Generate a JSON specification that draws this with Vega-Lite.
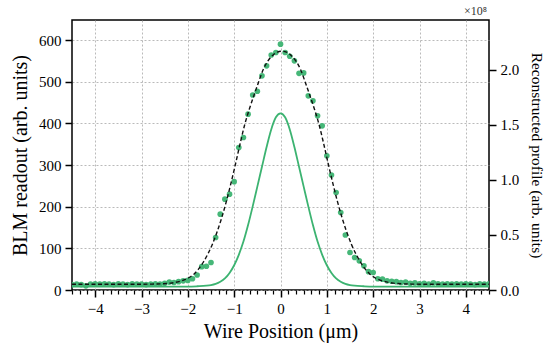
{
  "$schema": "https://vega.github.io/schema/vega-lite/v6.json",
  "width": 417,
  "height": 270,
  "autosize": {"type": "none"},
  "padding": {"left": 72, "top": 20, "right": 66, "bottom": 57},
  "background": "white",
  "title": {"text": "×10⁸", "anchor": "end", "frame": "group", "fontSize": 12, "fontWeight": "normal", "offset": 2, "dx": -2, "color": "#333333"},
  "config": {
    "font": "Liberation Serif",
    "view": {"stroke": "black", "strokeWidth": 1.5},
    "axis": {
      "domain": false,
      "tickColor": "black",
      "tickWidth": 1.5,
      "tickSize": 7,
      "labelFontSize": 15,
      "labelColor": "black",
      "titleColor": "black",
      "titleFontWeight": "normal",
      "titleFontSize": 20,
      "gridColor": "#a8a8a8",
      "gridDash": [2, 2],
      "gridWidth": 0.8,
      "labelOverlap": false
    }
  },
  "datasets": {
    "dots": [
      {"x": -4.5, "y": 13}, {"x": -4.4, "y": 14}, {"x": -4.3, "y": 13}, {"x": -4.2, "y": 10}, {"x": -4.1, "y": 14},
      {"x": -4.0, "y": 15}, {"x": -3.9, "y": 14}, {"x": -3.8, "y": 15}, {"x": -3.7, "y": 14}, {"x": -3.6, "y": 13},
      {"x": -3.5, "y": 15}, {"x": -3.4, "y": 14}, {"x": -3.3, "y": 13}, {"x": -3.2, "y": 15}, {"x": -3.1, "y": 14},
      {"x": -3.0, "y": 14}, {"x": -2.9, "y": 13}, {"x": -2.8, "y": 14}, {"x": -2.7, "y": 15}, {"x": -2.6, "y": 14},
      {"x": -2.5, "y": 16}, {"x": -2.4, "y": 19}, {"x": -2.3, "y": 18}, {"x": -2.2, "y": 20}, {"x": -2.1, "y": 22},
      {"x": -2.0, "y": 23}, {"x": -1.9, "y": 27}, {"x": -1.8, "y": 36}, {"x": -1.7, "y": 56}, {"x": -1.6, "y": 57},
      {"x": -1.5, "y": 66}, {"x": -1.4, "y": 126}, {"x": -1.3, "y": 182}, {"x": -1.2, "y": 218}, {"x": -1.1, "y": 230},
      {"x": -1.0, "y": 260}, {"x": -0.9, "y": 342}, {"x": -0.8, "y": 366}, {"x": -0.7, "y": 422}, {"x": -0.6, "y": 468},
      {"x": -0.5, "y": 477}, {"x": -0.4, "y": 514}, {"x": -0.3, "y": 538}, {"x": -0.2, "y": 564}, {"x": -0.1, "y": 570},
      {"x": 0.0, "y": 590}, {"x": 0.1, "y": 570}, {"x": 0.2, "y": 561}, {"x": 0.3, "y": 550}, {"x": 0.4, "y": 520},
      {"x": 0.5, "y": 521}, {"x": 0.6, "y": 466}, {"x": 0.7, "y": 454}, {"x": 0.8, "y": 418}, {"x": 0.9, "y": 394},
      {"x": 1.0, "y": 322}, {"x": 1.1, "y": 276}, {"x": 1.2, "y": 234}, {"x": 1.3, "y": 186}, {"x": 1.4, "y": 132},
      {"x": 1.5, "y": 90}, {"x": 1.6, "y": 78}, {"x": 1.7, "y": 70}, {"x": 1.8, "y": 58}, {"x": 1.9, "y": 44},
      {"x": 2.0, "y": 42}, {"x": 2.1, "y": 27}, {"x": 2.2, "y": 26}, {"x": 2.3, "y": 22}, {"x": 2.4, "y": 21},
      {"x": 2.5, "y": 20}, {"x": 2.6, "y": 18}, {"x": 2.7, "y": 19}, {"x": 2.8, "y": 16}, {"x": 2.9, "y": 17},
      {"x": 3.0, "y": 15}, {"x": 3.1, "y": 16}, {"x": 3.2, "y": 14}, {"x": 3.3, "y": 17}, {"x": 3.4, "y": 15},
      {"x": 3.5, "y": 14}, {"x": 3.6, "y": 15}, {"x": 3.7, "y": 14}, {"x": 3.8, "y": 15}, {"x": 3.9, "y": 14},
      {"x": 4.0, "y": 15}, {"x": 4.1, "y": 14}, {"x": 4.2, "y": 13}, {"x": 4.3, "y": 15}, {"x": 4.4, "y": 14},
      {"x": 4.5, "y": 15}
    ],
    "fit": [
      {"x": -4.5, "y": 13.8}, {"x": -3.97, "y": 13.8}, {"x": -3.47, "y": 13.8}, {"x": -2.97, "y": 13.9},
      {"x": -2.77, "y": 14.2}, {"x": -2.57, "y": 14.8}, {"x": -2.37, "y": 16.5}, {"x": -2.17, "y": 21},
      {"x": -1.97, "y": 30}, {"x": -1.87, "y": 38}, {"x": -1.77, "y": 50}, {"x": -1.67, "y": 66},
      {"x": -1.57, "y": 86}, {"x": -1.47, "y": 110}, {"x": -1.37, "y": 139}, {"x": -1.27, "y": 173},
      {"x": -1.17, "y": 212}, {"x": -1.07, "y": 256}, {"x": -0.97, "y": 303}, {"x": -0.87, "y": 352},
      {"x": -0.77, "y": 398}, {"x": -0.67, "y": 435}, {"x": -0.57, "y": 468}, {"x": -0.47, "y": 500},
      {"x": -0.37, "y": 530}, {"x": -0.27, "y": 550}, {"x": -0.17, "y": 563}, {"x": -0.07, "y": 571},
      {"x": 0.03, "y": 573},
      {"x": 0.13, "y": 571}, {"x": 0.23, "y": 563}, {"x": 0.33, "y": 550}, {"x": 0.43, "y": 530},
      {"x": 0.53, "y": 500}, {"x": 0.63, "y": 468}, {"x": 0.73, "y": 435}, {"x": 0.83, "y": 398},
      {"x": 0.93, "y": 352}, {"x": 1.03, "y": 303}, {"x": 1.13, "y": 256}, {"x": 1.23, "y": 212},
      {"x": 1.33, "y": 173}, {"x": 1.43, "y": 139}, {"x": 1.53, "y": 110}, {"x": 1.63, "y": 86},
      {"x": 1.73, "y": 66}, {"x": 1.83, "y": 50}, {"x": 1.93, "y": 38}, {"x": 2.03, "y": 30},
      {"x": 2.23, "y": 21}, {"x": 2.43, "y": 16.5}, {"x": 2.63, "y": 14.8}, {"x": 2.83, "y": 14.2},
      {"x": 3.03, "y": 13.9}, {"x": 3.53, "y": 13.8}, {"x": 4.03, "y": 13.8}, {"x": 4.5, "y": 13.8}
    ],
    "recon": [
      {"x": -4.5, "y": 0.03}, {"x": -3.0, "y": 0.03}, {"x": -2.5, "y": 0.03}, {"x": -2.0, "y": 0.031},
      {"x": -1.8, "y": 0.034}, {"x": -1.6, "y": 0.039}, {"x": -1.5, "y": 0.045}, {"x": -1.4, "y": 0.056},
      {"x": -1.3, "y": 0.075}, {"x": -1.2, "y": 0.105}, {"x": -1.1, "y": 0.155}, {"x": -1.0, "y": 0.225},
      {"x": -0.9, "y": 0.32}, {"x": -0.8, "y": 0.44}, {"x": -0.7, "y": 0.59}, {"x": -0.6, "y": 0.76},
      {"x": -0.5, "y": 0.94}, {"x": -0.4, "y": 1.12}, {"x": -0.3, "y": 1.30}, {"x": -0.2, "y": 1.46},
      {"x": -0.1, "y": 1.57}, {"x": 0.0, "y": 1.606}, {"x": 0.1, "y": 1.57}, {"x": 0.2, "y": 1.46},
      {"x": 0.3, "y": 1.30}, {"x": 0.4, "y": 1.12}, {"x": 0.5, "y": 0.94}, {"x": 0.6, "y": 0.76},
      {"x": 0.7, "y": 0.59}, {"x": 0.8, "y": 0.44}, {"x": 0.9, "y": 0.32}, {"x": 1.0, "y": 0.225},
      {"x": 1.1, "y": 0.155}, {"x": 1.2, "y": 0.105}, {"x": 1.3, "y": 0.075}, {"x": 1.4, "y": 0.056},
      {"x": 1.5, "y": 0.045}, {"x": 1.6, "y": 0.039}, {"x": 1.8, "y": 0.034}, {"x": 2.0, "y": 0.031},
      {"x": 2.5, "y": 0.03}, {"x": 3.0, "y": 0.03}, {"x": 4.5, "y": 0.03}
    ]
  },
  "resolve": {"scale": {"y": "independent", "x": "independent"}, "axis": {"x": "independent"}},
  "layer": [
    {
      "data": {"name": "recon"},
      "mark": {"type": "line", "color": "#3cb371", "strokeWidth": 1.8, "interpolate": "monotone", "clip": true},
      "encoding": {
        "x": {
          "field": "x", "type": "quantitative",
          "scale": {"domain": [-4.5, 4.5], "nice": false, "zero": false},
          "axis": {
            "orient": "bottom",
            "values": [-4, -3, -2, -1, 0, 1, 2, 3, 4],
            "format": ".0f",
            "grid": true,
            "labelPadding": 4,
            "title": "Wire Position (μm)",
            "titlePadding": 5
          }
        },
        "y": {
          "field": "y", "type": "quantitative",
          "scale": {"domain": [0, 2.4545], "nice": false},
          "axis": {
            "orient": "right",
            "values": [0, 0.5, 1, 1.5, 2],
            "format": ".1f",
            "grid": false,
            "labelPadding": 4,
            "title": "Reconstructed profile (arb. units)",
            "titleFontSize": 15.5,
            "titlePadding": 10
          }
        }
      }
    },
    {
      "data": {"name": "dots"},
      "mark": {"type": "point", "filled": true, "shape": "circle", "size": 32, "opacity": 0.95, "color": "#3cb371", "clip": true},
      "encoding": {
        "x": {
          "field": "x", "type": "quantitative",
          "scale": {"domain": [-4.5, 4.5], "nice": false, "zero": false},
          "axis": {
            "orient": "bottom",
            "values": [-4.5, -4.3333, -4.1667, -3.8333, -3.6667, -3.5, -3.3333, -3.1667, -2.8333, -2.6667, -2.5, -2.3333, -2.1667, -1.8333, -1.6667, -1.5, -1.3333, -1.1667, -0.8333, -0.6667, -0.5, -0.3333, -0.1667, 0.1667, 0.3333, 0.5, 0.6667, 0.8333, 1.1667, 1.3333, 1.5, 1.6667, 1.8333, 2.1667, 2.3333, 2.5, 2.6667, 2.8333, 3.1667, 3.3333, 3.5, 3.6667, 3.8333, 4.1667, 4.3333, 4.5],
            "labels": false,
            "grid": false,
            "tickSize": 4,
            "tickWidth": 1.2,
            "title": null
          }
        },
        "y": {
          "field": "y", "type": "quantitative",
          "scale": {"domain": [0, 648], "nice": false},
          "axis": {
            "orient": "left",
            "values": [0, 100, 200, 300, 400, 500, 600],
            "grid": true,
            "labelPadding": 4,
            "title": "BLM readout (arb. units)",
            "titlePadding": 8
          }
        }
      }
    },
    {
      "data": {"name": "fit"},
      "mark": {"type": "line", "color": "#111111", "strokeWidth": 1.4, "strokeDash": [4, 2.5], "interpolate": "monotone", "clip": true},
      "encoding": {
        "x": {
          "field": "x", "type": "quantitative",
          "scale": {"domain": [-4.5, 4.5], "nice": false, "zero": false},
          "axis": null
        },
        "y": {
          "field": "y", "type": "quantitative",
          "scale": {"domain": [0, 648], "nice": false},
          "axis": null
        }
      }
    }
  ]
}
